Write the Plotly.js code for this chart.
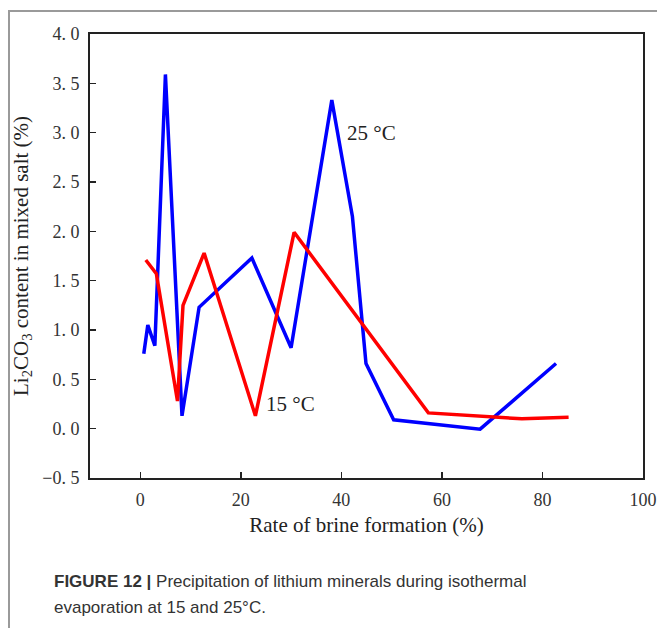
<!DOCTYPE html>
<html>
<head>
<meta charset="utf-8">
<script src="https://cdn.plot.ly/plotly-3.0.1.min.js"></script>
<style>
  html, body { margin: 0; padding: 0; background: #fff; }
  #wrap { position: relative; width: 657px; height: 628px; overflow: hidden; }
  #chart { position: absolute; left: 0; top: 0; width: 657px; height: 628px; }
  #frame { position: absolute; left: 8px; top: 10px; width: 700px; height: 700px;
           border-top: 2px solid #9a9a9a; border-left: 2px solid #9a9a9a; pointer-events: none; }
</style>
</head>
<body>
<div id="wrap">
  <div id="chart"></div>
  <div id="frame"></div>
</div>
<script>
// 25 °C series (blue)
const x25 = [0.7, 1.5, 2.9, 5.0, 8.3, 11.7, 22.2, 30.0, 38.1, 42.2, 44.9, 50.4, 67.6, 82.7];
const y25 = [0.76, 1.05, 0.84, 3.59, 0.13, 1.23, 1.73, 0.82, 3.33, 2.15, 0.66, 0.09, -0.005, 0.66];
// 15 °C series (red)
const x15 = [1.1, 3.2, 7.4, 8.5, 12.7, 22.9, 30.6, 57.3, 75.9, 85.2];
const y15 = [1.71, 1.57, 0.28, 1.25, 1.78, 0.13, 1.99, 0.16, 0.10, 0.115];
// tick labels
const yTickVals = [-0.5, 0, 0.5, 1.0, 1.5, 2.0, 2.5, 3.0, 3.5, 4.0];
const yTickText = ["\u22120. 5", "0. 0", "0. 5", "1. 0", "1. 5", "2. 0", "2. 5", "3. 0", "3. 5", "4. 0"];
const xTickVals = [0, 20, 40, 60, 80, 100];
const xTickText = ["0", "20", "40", "60", "80", "100"];

const serif = "Liberation Serif, Times New Roman, serif";
const sans = "Liberation Sans, Arial, sans-serif";

const traces = [
  { x: x25, y: y25, mode: "lines", name: "25 °C", line: { color: "#0000ff", width: 3.5 } },
  { x: x15, y: y15, mode: "lines", name: "15 °C", line: { color: "#ff0000", width: 3.5 } }
];

const layout = {
  width: 657, height: 628,
  margin: { l: 90, r: 14, t: 34, b: 150 },
  paper_bgcolor: "#ffffff", plot_bgcolor: "#ffffff",
  showlegend: false,
  font: { family: serif, color: "#222" },
  xaxis: {
    range: [-10, 100], tickvals: xTickVals, ticktext: xTickText,
    ticks: "inside", ticklen: 6, tickwidth: 1.5, tickcolor: "#222",
    showline: true, linecolor: "#222", linewidth: 2, mirror: true,
    showgrid: false, zeroline: false,
    tickfont: { family: serif, size: 18, color: "#333" },
    ticklabelstandoff: 4,
    title: { text: "Rate of brine formation (%)", font: { family: serif, size: 21, color: "#222" }, standoff: 9 },
    automargin: false
  },
  yaxis: {
    range: [-0.5, 4.0], tickvals: yTickVals, ticktext: yTickText,
    ticks: "inside", ticklen: 6, tickwidth: 1.5, tickcolor: "#222",
    showline: true, linecolor: "#222", linewidth: 2, mirror: true,
    showgrid: false, zeroline: false,
    tickfont: { family: serif, size: 18, color: "#333" },
    ticklabelstandoff: 5,
    title: { text: "Li<sub>2</sub>CO<sub>3</sub> content in mixed salt (%)", font: { family: serif, size: 21, color: "#222" }, standoff: 8 },
    automargin: false
  },
  annotations: [
    { x: 40.8, y: 3.0, xref: "x", yref: "y", text: "25 °C", showarrow: false,
      xanchor: "left", yanchor: "middle", font: { family: serif, size: 21, color: "#222" } },
    { x: 24.7, y: 0.25, xref: "x", yref: "y", text: "15 °C", showarrow: false,
      xanchor: "left", yanchor: "middle", font: { family: serif, size: 21, color: "#222" } },
    { x: -0.0687, y: -0.234, xref: "paper", yref: "paper", showarrow: false,
      xanchor: "left", yanchor: "middle", align: "left",
      text: "<b>FIGURE 12 |</b> Precipitation of lithium minerals during isothermal",
      font: { family: sans, size: 17, color: "#333" } },
    { x: -0.0687, y: -0.291, xref: "paper", yref: "paper", showarrow: false,
      xanchor: "left", yanchor: "middle", align: "left",
      text: "evaporation at 15 and 25°C.",
      font: { family: sans, size: 17, color: "#333" } }
  ]
};

Plotly.newPlot("chart", traces, layout, { displayModeBar: false, staticPlot: true });
</script>
</body>
</html>
